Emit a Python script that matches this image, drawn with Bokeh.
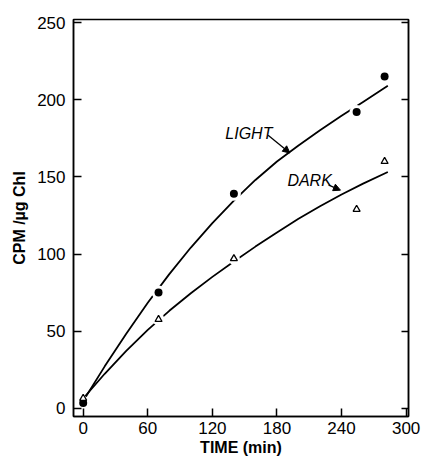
from bokeh.plotting import figure
from bokeh.models import LinearAxis, FixedTicker, Label, Arrow, NormalHead, Range1d
from bokeh.embed import file_html
from bokeh.resources import INLINE

# ---- data ----
light_time = [0, 70, 140, 254, 280]
light_cpm = [3.4, 75, 139, 192, 215]
dark_time = [0, 70, 140, 254, 280]
dark_cpm = [6.5, 57.6, 97, 129, 160]

fit_time = [2, 20, 40, 60, 80, 100, 120, 140, 160, 180, 200, 220, 240, 260, 283]
light_fit_cpm = [7, 27.2, 48.4, 68.4, 87, 104.2, 120, 134.6, 148, 160, 170.4, 180.2, 189.6, 198.6, 209]
dark_fit_cpm = [8, 22.4, 37.2, 50.8, 63.2, 74.6, 85.2, 95.2, 104.8, 114, 122.8, 131, 138.6, 145.6, 153.2]

x_ticks = [0, 60, 120, 180, 240, 300]
y_ticks = [0, 50, 100, 150, 200, 250]

FONT = "Liberation Sans"

p = figure(width=422, height=458, x_range=Range1d(-9, 302.2), y_range=Range1d(-5.3, 252),
           output_backend="svg", toolbar_location=None,
           min_border_left=73, min_border_right=14, min_border_top=19, min_border_bottom=41)
p.grid.visible = False
p.outline_line_color = "black"
p.outline_line_width = 1.5
p.background_fill_color = "white"
p.border_fill_color = "white"

for ax in (p.xaxis[0], p.yaxis[0]):
    ax.axis_line_color = "black"
    ax.axis_line_width = 1.5
    ax.major_tick_in = 8
    ax.major_tick_out = 0
    ax.minor_tick_line_color = None
    ax.major_tick_line_width = 1.5
    ax.major_label_text_font = FONT
    ax.major_label_text_font_size = "17px"
    ax.major_label_text_color = "black"
    ax.axis_label_text_font = FONT
    ax.axis_label_text_font_style = "bold"
    ax.axis_label_text_font_size = "16px"
    ax.axis_label_text_color = "black"

p.xaxis.ticker = FixedTicker(ticks=x_ticks)
p.yaxis.ticker = FixedTicker(ticks=y_ticks)
p.xaxis.major_label_standoff = 5
p.xaxis.axis_label_standoff = 2
p.yaxis.major_label_standoff = 8
p.yaxis.axis_label_standoff = 6
p.xaxis.axis_label = "TIME (min)"
p.yaxis.axis_label = "CPM /µg Chl"

right = LinearAxis(ticker=FixedTicker(ticks=y_ticks),
                   major_label_overrides={t: "" for t in y_ticks},
                   major_label_text_font_size="1px", major_label_text_color=None,
                   major_tick_in=7, major_tick_out=0, minor_tick_line_color=None,
                   axis_line_color="black", axis_line_width=1.5, major_tick_line_width=1.5,
                   major_label_standoff=0)
p.add_layout(right, "right")

# fitted curves
p.line(fit_time, light_fit_cpm, line_color="black", line_width=1.8)
p.line(fit_time, dark_fit_cpm, line_color="black", line_width=1.8)

# white gaps around points
p.scatter(light_time, light_cpm, marker="circle", size=14, fill_color="white", line_color=None)
p.scatter(dark_time[1:], dark_cpm[1:], marker="circle", size=12, fill_color="white", line_color=None)

p.scatter(light_time, light_cpm, marker="circle", size=8, fill_color="black", line_color=None)
p.scatter(dark_time, dark_cpm, marker="triangle", size=7, fill_color="white", line_color="black",
          line_width=1.3)

# annotations
p.add_layout(Label(x=132, y=178.3, text="LIGHT", text_font=FONT, text_font_style="italic",
                   text_font_size="16px", text_baseline="middle", text_color="black"))
p.add_layout(Label(x=189.7, y=147.9, text="DARK", text_font=FONT, text_font_style="italic",
                   text_font_size="16px", text_baseline="middle", text_color="black"))
p.add_layout(Arrow(x_start=171.8, y_start=177, x_end=192, y_end=165.5, line_width=1.3,
                   end=NormalHead(size=7, fill_color="black", line_color="black")))
p.add_layout(Arrow(x_start=228.1, y_start=144.6, x_end=239, y_end=141.4, line_width=1.3,
                   end=NormalHead(size=7, fill_color="black", line_color="black")))

open("out.html", "w").write(file_html(p, INLINE))
